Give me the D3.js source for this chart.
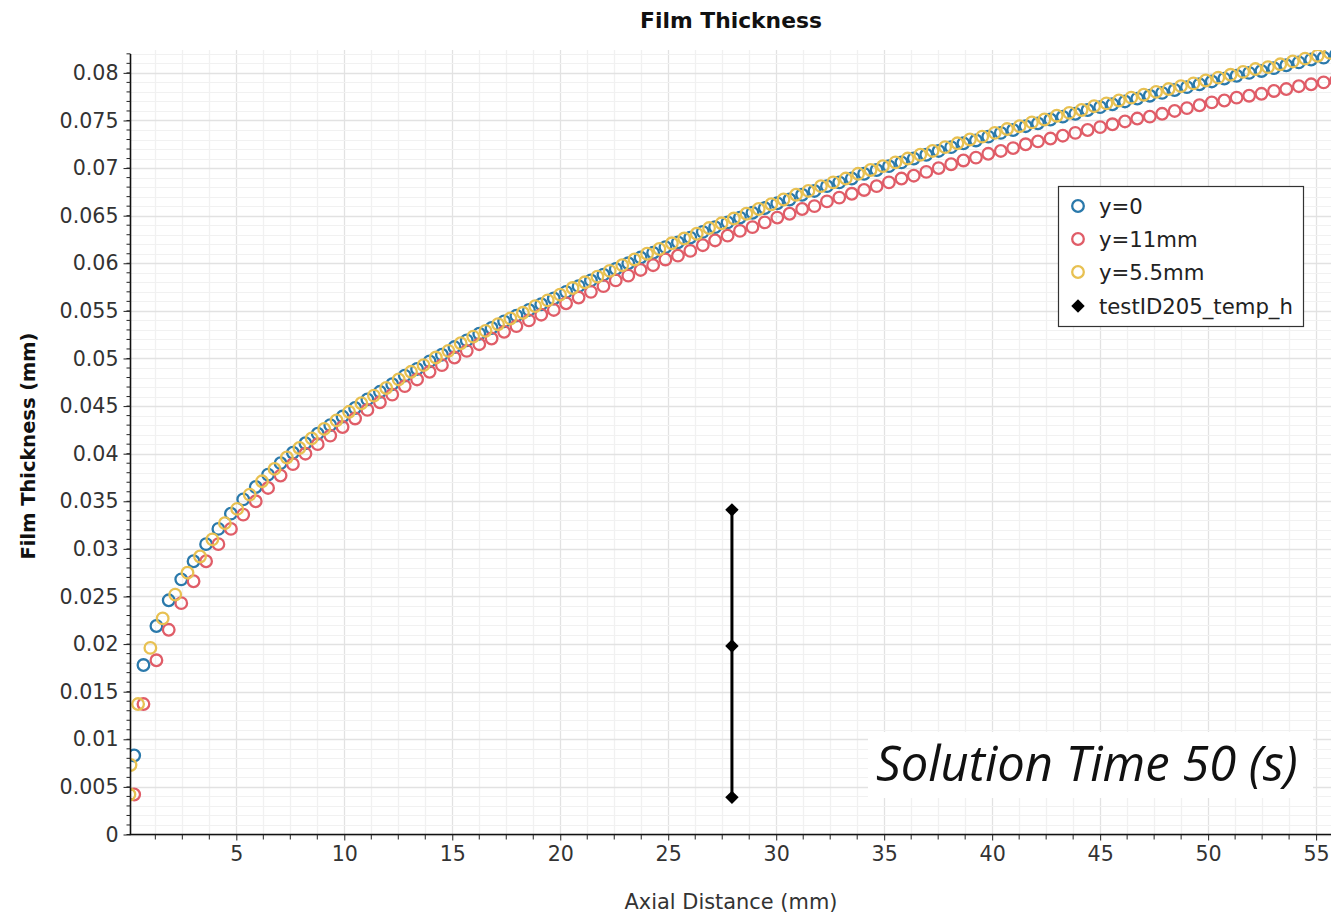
<!DOCTYPE html>
<html><head><meta charset="utf-8">
<script src="https://cdn.jsdelivr.net/npm/d3@7"></script>
<style>
html,body{margin:0;padding:0;background:#fff;}
text{font-family:"DejaVu Sans","Open Sans",sans-serif;}
text.anno{font-family:"Open Sans","Noto Sans",sans-serif;font-style:italic;}
</style></head>
<body>
<svg id="chart" width="1331" height="915"></svg>
<script>
// ---------- data ----------
const seriesNames = ["y=0", "y=11mm", "y=5.5mm", "testID205_temp_h"];

// axial positions shared by y=0 and y=11mm (mm)
const xGrid = [0.27,0.70,1.30,1.87,2.45,3.02,3.60,4.17,4.75,5.32,5.90,6.47,7.05,7.62,8.20,8.77,9.35,9.92,
10.50,11.07,11.65,12.22,12.80,13.37,13.95,14.52,15.10,15.67,16.25,16.82,17.40,17.97,18.55,19.12,19.70,
20.27,20.85,21.42,22.00,22.57,23.15,23.72,24.30,24.87,25.45,26.02,26.60,27.17,27.75,28.32,28.90,29.47,
30.05,30.62,31.20,31.77,32.35,32.92,33.50,34.07,34.65,35.22,35.80,36.37,36.95,37.52,38.10,38.67,39.25,39.82,
40.40,40.97,41.55,42.12,42.70,43.27,43.85,44.42,45.00,45.57,46.15,46.72,47.30,47.87,48.45,49.02,49.60,
50.17,50.75,51.32,51.90,52.47,53.05,53.62,54.20,54.77,55.35,55.92];

const yZero = [0.0083,0.0178,0.0219,0.0246,0.0268,0.0287,0.0305,0.0321,0.0337,0.0352,0.0365,0.0378,0.0390,0.0401,0.0411,0.0421,0.0430,0.0439,
0.0448,0.0457,0.0465,0.0473,0.0482,0.0489,0.0497,0.0504,0.0512,0.0519,0.0526,0.0532,0.0539,0.0545,0.0551,0.0557,0.0563,
0.0570,0.0576,0.0582,0.0588,0.0594,0.0600,0.0606,0.0611,0.0617,0.0622,0.0627,0.0633,0.0638,0.0643,0.0648,0.0653,0.0658,
0.0663,0.0667,0.0672,0.0676,0.0681,0.0685,0.0689,0.0694,0.0698,0.0702,0.0706,0.0710,0.0714,0.0718,0.0722,0.0726,0.0729,0.0733,
0.0737,0.0740,0.0744,0.0747,0.0751,0.0754,0.0757,0.0761,0.0764,0.0767,0.0770,0.0773,0.0776,0.0779,0.0782,0.0785,0.0788,
0.0791,0.0794,0.0797,0.0800,0.0802,0.0805,0.0808,0.0811,0.0814,0.0816,0.0819];

const y11mm = [0.0042,0.0137,0.0183,0.0215,0.0243,0.0266,0.0287,0.0305,0.0321,0.0336,0.0350,0.0364,0.0377,0.0389,0.0400,0.0410,0.0419,0.0428,
0.0437,0.0446,0.0454,0.0462,0.0471,0.0478,0.0486,0.0493,0.0501,0.0508,0.0515,0.0521,0.0528,0.0534,0.0540,0.0546,0.0551,
0.0558,0.0564,0.0570,0.0576,0.0582,0.0587,0.0593,0.0598,0.0604,0.0608,0.0613,0.0619,0.0624,0.0629,0.0634,0.0638,0.0643,
0.0648,0.0652,0.0657,0.0660,0.0665,0.0669,0.0673,0.0677,0.0681,0.0685,0.0689,0.0692,0.0696,0.0700,0.0704,0.0708,0.0711,0.0715,
0.0718,0.0721,0.0725,0.0728,0.0731,0.0734,0.0737,0.0740,0.0743,0.0746,0.0749,0.0752,0.0754,0.0757,0.0760,0.0763,0.0766,
0.0769,0.0771,0.0774,0.0776,0.0778,0.0781,0.0783,0.0786,0.0788,0.0790,0.0792];

// axial positions of y=5.5mm (mm)
const xMid = [0.05,0.10,0.45,1.02,1.59,2.17,2.74,3.32,3.89,4.47,5.04,5.62,6.19,6.77,7.34,7.92,8.49,9.07,9.64,
10.22,10.79,11.37,11.94,12.52,13.09,13.67,14.24,14.82,15.39,15.97,16.54,17.12,17.69,18.27,18.84,19.42,19.99,
20.57,21.14,21.72,22.29,22.87,23.44,24.02,24.59,25.17,25.74,26.32,26.89,27.47,28.04,28.62,29.19,29.77,
30.34,30.92,31.49,32.07,32.64,33.22,33.79,34.37,34.94,35.52,36.09,36.67,37.24,37.82,38.39,38.97,39.54,
40.12,40.69,41.27,41.84,42.42,42.99,43.57,44.14,44.72,45.29,45.87,46.44,47.02,47.59,48.17,48.74,49.32,49.89,
50.47,51.04,51.62,52.19,52.77,53.34,53.92,54.49,55.07,55.64];

const yMid = [0.0042,0.0073,0.0137,0.0196,0.0227,0.0252,0.0275,0.0292,0.0310,0.0327,0.0342,0.0357,0.0371,0.0384,0.0396,0.0406,0.0416,0.0426,0.0435,
0.0444,0.0453,0.0461,0.0469,0.0478,0.0486,0.0493,0.0501,0.0508,0.0516,0.0523,0.0529,0.0536,0.0542,0.0548,0.0555,0.0561,0.0567,
0.0574,0.0580,0.0586,0.0592,0.0598,0.0604,0.0610,0.0615,0.0621,0.0626,0.0631,0.0637,0.0642,0.0647,0.0652,0.0657,0.0662,
0.0667,0.0672,0.0676,0.0681,0.0685,0.0689,0.0694,0.0698,0.0702,0.0706,0.0710,0.0714,0.0718,0.0722,0.0726,0.0730,0.0733,
0.0737,0.0741,0.0744,0.0748,0.0751,0.0755,0.0758,0.0761,0.0765,0.0768,0.0771,0.0774,0.0777,0.0780,0.0783,0.0786,0.0789,0.0792,
0.0795,0.0798,0.0801,0.0804,0.0806,0.0809,0.0812,0.0815,0.0818,0.0821];

// experimental measurement
const testX = [27.95, 27.95, 27.95];
const testY = [0.0341, 0.0198, 0.0039];

const yTicks = [0,0.005,0.01,0.015,0.02,0.025,0.03,0.035,0.04,0.045,0.05,0.055,0.06,0.065,0.07,0.075,0.08];
const yTickLabels = ["0","0.005","0.01","0.015","0.02","0.025","0.03","0.035","0.04","0.045","0.05","0.055","0.06","0.065","0.07","0.075","0.08"];
const xTicks = [5,10,15,20,25,30,35,40,45,50,55];
const xTickLabels = ["5","10","15","20","25","30","35","40","45","50","55"];

const colors = ["#2a79ab", "#e05d68", "#e8c152", "#000000"];

// ---------- layout ----------
const pL = 130.5, pR = 1331, pT = 50, pB = 834.5;
const svg = d3.select("#chart");

const x = d3.scaleLinear().domain([0.1, 55.69]).range([pL, pR]);
const y = d3.scaleLinear().domain([0, 0.08193]).range([pB, 54.5]);

function fitSize(sel, base, target) {
  sel.attr("font-size", base);
  const w = sel.node().getComputedTextLength();
  const s = base * target / w;
  sel.attr("font-size", s);
  return s;
}

// grid
const grid = svg.append("g");
const xMinor = d3.range(0, 56.3, 1.25).filter(v => v > 0.1 && v <= 55.69);
const yMinor = d3.range(0, 0.0822, 0.001);
grid.selectAll("line.xm").data(xMinor).join("line")
  .attr("x1", d => Math.round(x(d)) + 0.5).attr("x2", d => Math.round(x(d)) + 0.5).attr("y1", pT).attr("y2", pB)
  .attr("stroke", d => Math.abs(d/5 - Math.round(d/5)) < 1e-6 ? "#e2e2e2" : "#f1f1f1").attr("stroke-width", 1.3);
grid.selectAll("line.ym").data(yMinor).join("line")
  .attr("y1", d => Math.round(y(d)) + 0.5).attr("y2", d => Math.round(y(d)) + 0.5).attr("x1", pL).attr("x2", pR)
  .attr("stroke", "#f1f1f1").attr("stroke-width", 1);
grid.selectAll("line.yM").data(yTicks).join("line")
  .attr("y1", d => Math.round(y(d)) + 0.5).attr("y2", d => Math.round(y(d)) + 0.5).attr("x1", pL).attr("x2", pR)
  .attr("stroke", "#e2e2e2").attr("stroke-width", 1.3);

// clip
svg.append("clipPath").attr("id", "plotclip").append("rect")
  .attr("x", pL).attr("y", pT).attr("width", pR - pL).attr("height", pB - pT + 8);

const plot = svg.append("g").attr("clip-path", "url(#plotclip)");

const series = [
  {xs: xGrid, ys: yZero, c: colors[0]},
  {xs: xGrid, ys: y11mm, c: colors[1]},
  {xs: xMid, ys: yMid, c: colors[2]}
];
series.forEach(s => {
  plot.append("g").selectAll("circle").data(d3.zip(s.xs, s.ys)).join("circle")
    .attr("cx", d => x(d[0])).attr("cy", d => y(d[1])).attr("r", 5.8)
    .attr("fill", "none").attr("stroke", s.c).attr("stroke-width", 2.3);
});

// error bar (measurement)
const testPts = d3.zip(testX, testY);
plot.append("path")
  .attr("d", d3.line().x(d => x(d[0])).y(d => y(d[1]))(testPts))
  .attr("stroke", "#000").attr("stroke-width", 3).attr("fill", "none");
plot.append("g").selectAll("path").data(testPts).join("path")
  .attr("d", d3.symbol().type(d3.symbolDiamond2).size(115)())
  .attr("transform", d => `translate(${x(d[0])},${y(d[1])})`)
  .attr("fill", "#000");

// axes
const axisG = svg.append("g");
const yAxis = d3.axisLeft(y).tickValues(yTicks).tickFormat((d, i) => yTickLabels[i]).tickSize(7).tickPadding(5);
const yA = axisG.append("g").attr("transform", `translate(${pL},0)`).call(yAxis);
yA.attr("font-family", null).attr("font-size", null);
yA.select(".domain").attr("d", `M0,${54}V${pB}`).attr("stroke", "#111").attr("stroke-width", 1.6);
yA.selectAll(".tick line").attr("stroke", "#222");
const tickText = yA.selectAll(".tick text").attr("fill", "#333");
const probe = yA.selectAll(".tick text").filter((d, i) => yTickLabels[i] === "0.075");
const tickFs = fitSize(probe, 20, 59);
tickText.attr("font-size", tickFs);
// y minor ticks
axisG.append("g").selectAll("line").data(yMinor).join("line")
  .attr("x1", pL - 4).attr("x2", pL).attr("y1", d => y(d)).attr("y2", d => y(d))
  .attr("stroke", "#222").attr("stroke-width", 1);

const xAxis = d3.axisBottom(x).tickValues(xTicks).tickFormat((d, i) => xTickLabels[i]).tickSize(6).tickPadding(6);
const xA = axisG.append("g").attr("transform", `translate(0,${pB})`).call(xAxis);
xA.attr("font-family", null).attr("font-size", null);
xA.select(".domain").attr("d", `M${pL - 0.8},0H${pR}`).attr("stroke", "#111").attr("stroke-width", 1.6);
xA.selectAll(".tick line").attr("stroke", "#222");
xA.selectAll(".tick text").attr("font-size", tickFs).attr("fill", "#333");
axisG.append("g").selectAll("line").data(xMinor.filter(v => Math.abs(v/5 - Math.round(v/5)) > 1e-6)).join("line")
  .attr("x1", d => x(d)).attr("x2", d => x(d)).attr("y1", pB).attr("y2", pB + 5)
  .attr("stroke", "#222").attr("stroke-width", 1);

// titles
const t1 = svg.append("text").attr("x", 731).attr("y", 28).attr("text-anchor", "middle")
  .attr("font-weight", 600).attr("fill", "#111").text("Film Thickness");
fitSize(t1, 20, 182);
const t2 = svg.append("text").attr("transform", "translate(35,446) rotate(-90)").attr("text-anchor", "middle")
  .attr("font-weight", 600).attr("fill", "#111").text("Film Thickness (mm)");
fitSize(t2, 20, 227);
const t3 = svg.append("text").attr("x", 731).attr("y", 909).attr("text-anchor", "middle")
  .attr("fill", "#333").text("Axial Distance (mm)");
fitSize(t3, 20, 213);

// legend
const lg = svg.append("g");
lg.append("rect").attr("x", 1058.5).attr("y", 186.5).attr("width", 245).attr("height", 140)
  .attr("fill", "#fff").attr("stroke", "#333").attr("stroke-width", 1.2);
const legY = [206, 239, 272, 306];
const legTexts = [];
seriesNames.forEach((n, i) => {
  if (i < 3) {
    lg.append("circle").attr("cx", 1078).attr("cy", legY[i]).attr("r", 5.8)
      .attr("fill", "none").attr("stroke", colors[i]).attr("stroke-width", 2.3);
  } else {
    lg.append("path").attr("d", d3.symbol().type(d3.symbolDiamond2).size(115)())
      .attr("transform", `translate(1078,${legY[i]})`).attr("fill", "#000");
  }
  legTexts.push(lg.append("text").attr("x", 1099).attr("y", legY[i]).attr("dy", "0.36em")
    .attr("fill", "#222").text(n));
});
const legFs = fitSize(legTexts[3], 20, 194);
legTexts.forEach(t => t.attr("font-size", legFs));

// annotation
const ann = svg.append("g");
ann.append("rect").attr("x", 868).attr("y", 732).attr("width", 445).attr("height", 66).attr("fill", "#fff");
const at = ann.append("text").attr("class", "anno").attr("x", 876).attr("y", 781)
  .attr("fill", "#111").text("Solution Time 50 (s)");
fitSize(at, 44, 422);
</script>
</body></html>
